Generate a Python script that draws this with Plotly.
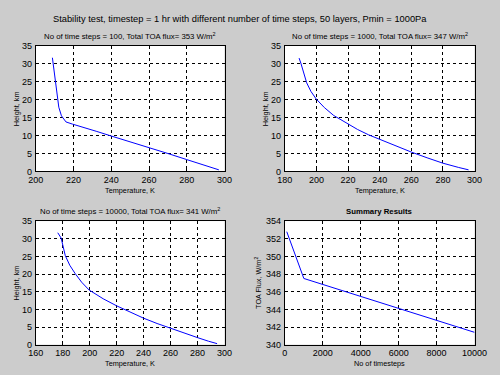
import plotly.graph_objects as go

# ---- data ----
temp_100 = [208.8, 209.2, 209.7, 210.4, 210.9, 211.4, 212.2, 213.6, 214.6, 216.0, 219.4,
            225.0, 232.0, 239.8, 250.0, 260.0, 270.0, 280.0, 290.0, 297.0]
height_100 = [31.7, 30.0, 27.4, 25.0, 22.0, 20.0, 17.9, 15.5, 14.7, 13.8, 13.2,
              12.4, 11.2, 9.9, 8.3, 6.7, 5.0, 3.3, 1.7, 0.45]

temp_1000 = [189.0, 190.1, 193.8, 196.5, 199.8, 205.0, 210.9, 220.0, 226.0, 233.0,
             240.0, 250.0, 260.0, 270.0, 280.0, 290.0, 296.2]
height_1000 = [31.6, 30.2, 24.7, 22.3, 20.2, 17.8, 15.6, 13.2, 11.7, 10.2,
               8.9, 7.1, 5.4, 3.8, 2.3, 1.1, 0.45]

temp_10000 = [176.3, 178.8, 181.9, 185.2, 189.1, 194.0, 199.5, 210.0, 220.0, 230.0,
              240.0, 250.0, 260.0, 270.0, 280.0, 288.0, 294.5]
height_10000 = [31.7, 30.2, 25.2, 22.5, 20.2, 17.7, 15.5, 13.0, 11.0, 9.2,
                7.5, 6.0, 4.6, 3.2, 2.0, 1.0, 0.3]

n_steps = [100, 1000, 10000]
toa_flux = [352.8, 347.5, 341.4]

main_title = "Stability test, timestep = 1 hr with different number of time steps, 50 layers, Pmin = 1000Pa"
sub_titles = [
    "No of time steps = 100, Total TOA flux= 353 W/m<sup>2</sup>",
    "No of time steps = 1000, Total TOA flux= 347 W/m<sup>2</sup>",
    "No of time steps = 10000, Total TOA flux= 341 W/m<sup>2</sup>",
    "<b>Summary Results</b>",
]

BG = "#cccccc"
LINE = "#0000ff"
FONT = "Liberation Sans, Arial, sans-serif"

W, H = 500, 375
# pixel boxes (left, right, top, bottom)
boxes = [(29, 226, 42, 171), (289, 487, 42, 171), (29, 226, 222, 349), (289, 487, 222, 349)]

fig = go.Figure()
series = [(temp_100, height_100), (temp_1000, height_1000), (temp_10000, height_10000), (n_steps, toa_flux)]
for i, (xs, ys) in enumerate(series):
    k = "" if i == 0 else str(i + 1)
    fig.add_trace(go.Scatter(x=xs, y=ys, mode="lines", line=dict(color=LINE, width=1),
                             xaxis="x" + k, yaxis="y" + k, showlegend=False, hoverinfo="skip"))

xranges = [[200, 300], [180, 300], [160, 300], [0, 10000]]
xdticks = [20, 20, 20, 2000]
yranges = [[0, 35], [0, 35], [0, 35], [340, 354]]
ydticks = [5, 5, 5, 2]
xtitles = ["Temperature, K", "Temperature, K", "Temperature, K", "No of timesteps"]
ytitles = ["Height, km", "Height, km", "Height, km", "TOA Flux, W/m<sup>2</sup>"]
ytitle_offsets = [20, 20, 20, 28]

layout = dict(width=W, height=H, autosize=False, margin=dict(l=0, r=0, t=0, b=0, pad=0),
              paper_bgcolor=BG, plot_bgcolor="white", font=dict(family=FONT, color="black", size=9),
              showlegend=False)

annotations = []
for i, (l, r, t, b) in enumerate(boxes):
    k = "" if i == 0 else str(i + 1)
    common = dict(showline=True, linecolor="black", linewidth=1, mirror="ticks",
                  ticks="inside", ticklen=3, tickcolor="black",
                  showgrid=True, gridcolor="black", griddash="dot", gridwidth=1,
                  zeroline=False, tickformat="d", tickfont=dict(size=9, family=FONT, color="black"))
    layout["xaxis" + k] = dict(common, domain=[l / W, r / W], range=xranges[i], dtick=xdticks[i],
                               tick0=0, anchor="y" + k, ticklabelstandoff=0)
    layout["yaxis" + k] = dict(common, domain=[1 - b / H, 1 - t / H], range=yranges[i], dtick=ydticks[i],
                               tick0=0, anchor="x" + k, ticklabelstandoff=1)
    cx = (l + r) / 2 / W
    annotations.append(dict(text=sub_titles[i], x=cx, y=1 - (t - 3) / H, xref="paper", yref="paper",
                            xanchor="center", yanchor="bottom", showarrow=False,
                            font=dict(size=7.8, family=FONT, color="black")))
    annotations.append(dict(text=xtitles[i], x=cx, y=1 - (b + 13) / H, xref="paper", yref="paper",
                            xanchor="center", yanchor="top", showarrow=False,
                            font=dict(size=7.3, family=FONT, color="black")))
    annotations.append(dict(text=ytitles[i], x=(l - ytitle_offsets[i]) / W, y=1 - (t + b) / 2 / H,
                            xref="paper", yref="paper",
                            xanchor="center", yanchor="middle", showarrow=False, textangle=-90,
                            font=dict(size=7.3, family=FONT, color="black")))

annotations.append(dict(text=main_title, x=242 / W, y=1 - 14 / H, xref="paper", yref="paper",
                        xanchor="center", yanchor="middle", showarrow=False,
                        font=dict(size=9.3, family=FONT, color="black")))
layout["annotations"] = annotations

fig.update_layout(**layout)
fig.write_html("out.html", config={"displayModeBar": False, "staticPlot": True},
               post_script="document.body.style.margin='0';document.body.style.padding='0';"
                           "document.body.style.background='#cccccc';")
